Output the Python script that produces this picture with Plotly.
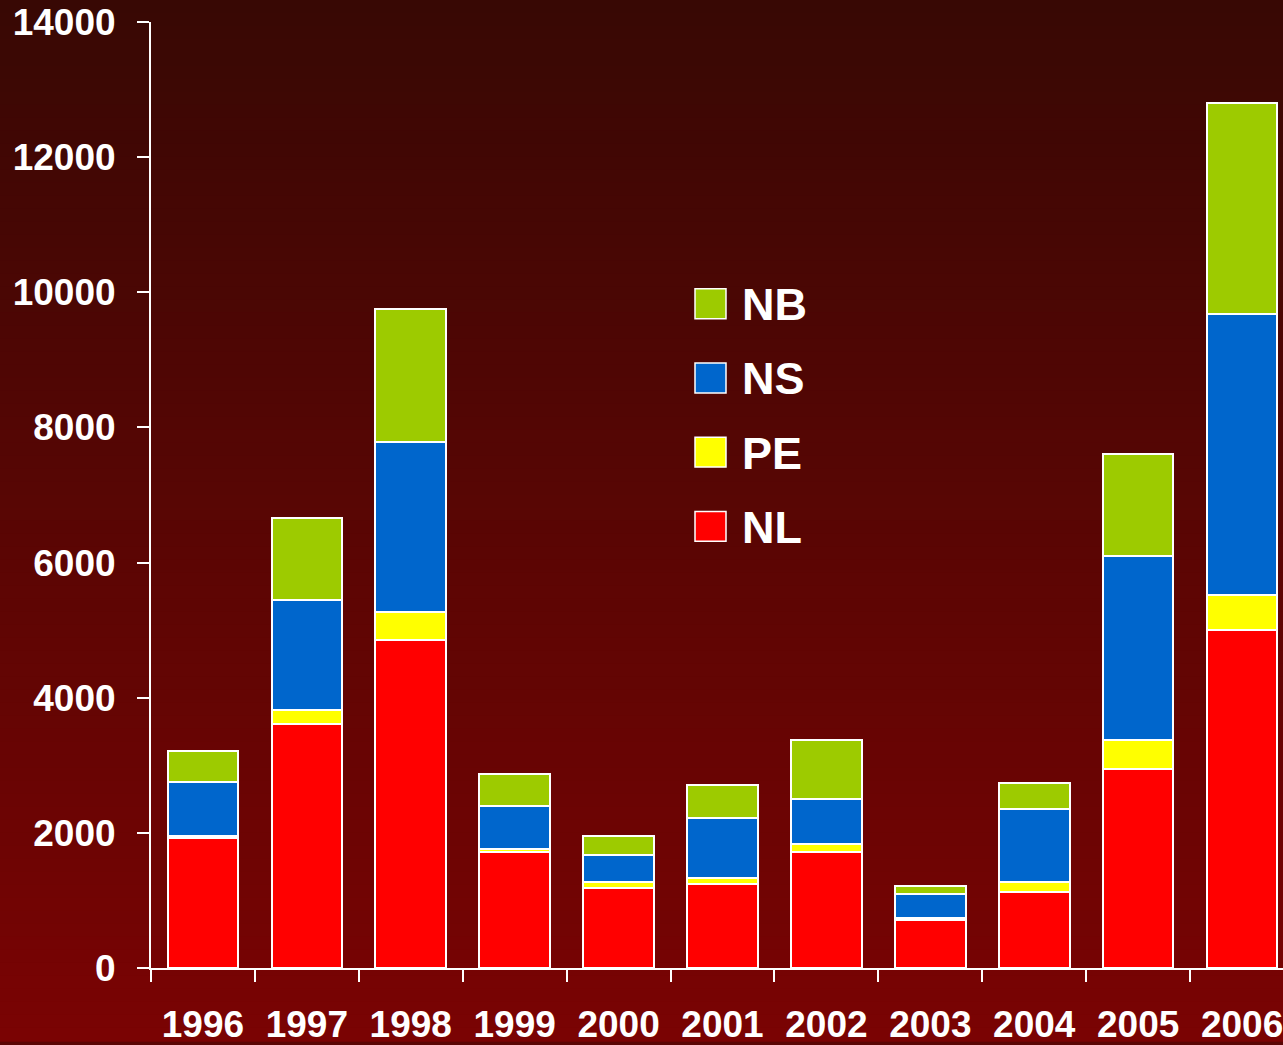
import plotly.graph_objects as go

years = ["1996", "1997", "1998", "1999", "2000", "2001", "2002", "2003", "2004", "2005", "2006"]
NL = [1920, 3610, 4850, 1720, 1180, 1240, 1710, 710, 1120, 2950, 5000]
PE = [30, 205, 415, 45, 90, 90, 120, 30, 150, 430, 515]
NS = [810, 1635, 2520, 635, 400, 885, 665, 355, 1090, 2710, 4170]
NB = [445, 1210, 1975, 470, 280, 500, 885, 115, 385, 1515, 3110]

series = [("NL", NL, "#ff0000"), ("PE", PE, "#ffff00"), ("NS", NS, "#0066cc"), ("NB", NB, "#9dcb00")]
y_ticks = [0, 2000, 4000, 6000, 8000, 10000, 12000, 14000]

W, H = 1283, 1045
L, T, B = 151, 22, 73
R = 0
pw = W - L - R
ph = H - T - B

FONT = "Liberation Sans, Arial, sans-serif"

fig = go.Figure()
for name, vals, col in series:
    fig.add_trace(go.Bar(
        x=years, y=vals, name=name,
        marker=dict(color=col, line=dict(color="white", width=2)),
        showlegend=False,
    ))

def px2paper_x(px):
    return (px - L) / pw

def px2paper_y(py):
    return (H - B - py) / ph

# background gradient bands
shapes = []
n = 80
top = (56, 8, 4)
bot = (122, 3, 3)
for i in range(n):
    f = i / (n - 1)
    c = tuple(round(top[k] + (bot[k] - top[k]) * f) for k in range(3))
    y0 = H * i / n
    y1 = H * (i + 1) / n + 1
    shapes.append(dict(
        type="rect", xref="paper", yref="paper", layer="below",
        x0=px2paper_x(-2), x1=px2paper_x(W + 2),
        y0=px2paper_y(y1), y1=px2paper_y(y0),
        line=dict(width=0), fillcolor="rgb(%d,%d,%d)" % c,
    ))

# manual legend (top to bottom NB, NS, PE, NL)
annotations = []
leg_items = list(reversed(series))
for i, (name, vals, col) in enumerate(leg_items):
    cy = 305 + i * 74.5
    shapes.append(dict(
        type="rect", xref="paper", yref="paper", layer="above",
        x0=px2paper_x(695), x1=px2paper_x(726),
        y0=px2paper_y(cy + 15), y1=px2paper_y(cy - 15),
        line=dict(color="white", width=1.5), fillcolor=col,
    ))
    annotations.append(dict(
        xref="paper", yref="paper", x=px2paper_x(740), y=px2paper_y(cy + 1),
        xanchor="left", yanchor="middle", showarrow=False, text=name,
        font=dict(family=FONT, size=45, color="white", weight="bold"),
    ))

fig.update_layout(
    width=W, height=H,
    margin=dict(l=L, r=R, t=T, b=B, pad=0),
    barmode="stack", bargap=0.32,
    paper_bgcolor="rgb(90,6,4)", plot_bgcolor="rgba(0,0,0,0)",
    shapes=shapes, annotations=annotations,
    showlegend=False,
    xaxis=dict(
        type="category", range=[-0.5, 10.5 - (1294 - W) / 103.9],
        showline=True, linecolor="white", linewidth=2,
        ticks="outside", tickson="boundaries", ticklen=12, tickwidth=2, tickcolor="white",
        tickfont=dict(family=FONT, size=37, color="white", weight="bold"),
        ticklabelstandoff=23,
        showgrid=False, zeroline=False,
    ),
    yaxis=dict(
        range=[0, 14000], tickvals=y_ticks, ticktext=[str(v) for v in y_ticks],
        showline=True, linecolor="white", linewidth=2,
        ticks="outside", ticklen=12, tickwidth=2, tickcolor="white",
        tickfont=dict(family=FONT, size=37, color="white", weight="bold"),
        ticklabelstandoff=14,
        showgrid=False, zeroline=False,
    ),
)

fig.write_html(
    "out.html",
    config={"displayModeBar": False},
    post_script="document.body.style.margin='0';document.body.style.background='rgb(122,3,3)';"
                "document.documentElement.style.overflow='hidden';",
)
